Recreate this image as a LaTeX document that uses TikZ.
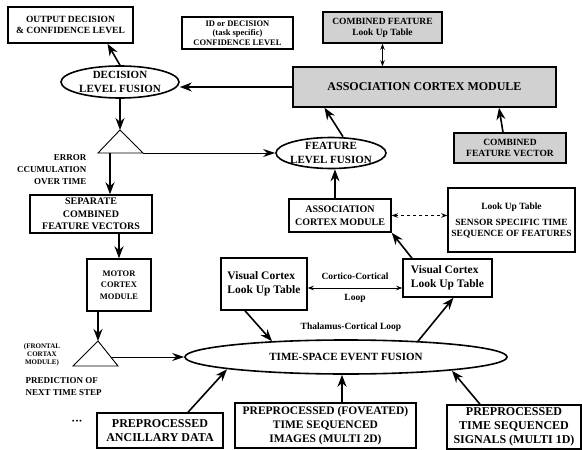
\documentclass[tikz,border=0pt]{standalone}
\usepackage{fontspec}
\setmainfont{Liberation Serif}
\usetikzlibrary{arrows.meta,shapes.geometric,calc}
\begin{document}
\begin{tikzpicture}[x=1pt,y=-1pt,>=Stealth,
  bx/.style={draw,line width=1.5pt,inner sep=0pt,align=center,fill=white},
  gbx/.style={bx,fill=black!18},
  fus/.style={draw,ellipse,line width=1.6pt,inner sep=0pt},
  ftxt/.style={font=\bfseries\fontsize{11}{13.5}\selectfont,align=center},
  fa/.style={font=\bfseries\fontsize{9.5}{11}\selectfont},
  fb/.style={font=\bfseries\fontsize{10}{12.5}\selectfont},
  fc/.style={font=\bfseries\fontsize{11.5}{14}\selectfont},
  big/.style={-{Stealth[length=12pt,width=9pt]},line width=1.6pt},
  lean/.style={-{Stealth[length=12pt,width=8pt]},line width=0.7pt},
  both/.style={{Stealth[length=6pt,width=4.5pt]}-{Stealth[length=6pt,width=4.5pt]},line width=0.8pt}]
  \useasboundingbox (0,0) rectangle (582,450);
  \node[bx,fa,minimum width=125,minimum height=36] (out) at (70.5,25) {OUTPUT DECISION\\\& CONFIDENCE LEVEL};
  \node[bx,font=\bfseries\fontsize{8.5}{9.5}\selectfont,minimum width=111,minimum height=32] (idc) at (237.5,33) {ID or DECISION\\(task specific)\\CONFIDENCE LEVEL};
  \node[gbx,fa,minimum width=119,minimum height=31] (cflut) at (382.5,27.5) {COMBINED FEATURE\\Look Up Table};
  \node[gbx,font=\bfseries\fontsize{12}{14}\selectfont,minimum width=263,minimum height=40] (acm) at (424.5,87) {ASSOCIATION CORTEX MODULE};
  \node[fus,minimum width=118,minimum height=32,label={[ftxt]center:{DECISION\\LEVEL FUSION}}] (dlf) at (120,82) {};
  \node[fus,minimum width=110,minimum height=31,label={[ftxt]center:{FEATURE\\LEVEL FUSION}}] (flf) at (331,153) {};
  \node[gbx,fa,minimum width=112,minimum height=30] (cfv) at (510,148) {COMBINED\\FEATURE VECTOR};
  \draw[line width=0.9pt] (120,130) coordinate (t1top) -- (143,153) coordinate (t1r) -- (98,153) -- cycle;
  \coordinate (t1b) at (110,153);
  \node[align=right,anchor=north east,font=\bfseries\fontsize{9}{12}\selectfont] (err) at (90,151) {ERROR\\CCUMULATION\\OVER TIME};
  \node[bx,fb,minimum width=122,minimum height=38] (sep) at (91,214) {SEPARATE\\COMBINED\\FEATURE VECTORS};
  \node[bx,font=\bfseries\fontsize{8.5}{11.5}\selectfont,minimum width=64,minimum height=52] (mot) at (119,285) {MOTOR\\CORTEX\\MODULE};
  \draw[line width=0.9pt] (98,341) coordinate (t2top) -- (118,366) -- (73,366) -- cycle;
  \coordinate (t2r) at (111,357);
  \node[font=\bfseries\fontsize{7}{8}\selectfont,align=center] (fro) at (42,355) {(FRONTAL\\CORTAX\\MODULE)};
  \node[anchor=west,align=left,font=\bfseries\fontsize{9}{12}\selectfont] (pred) at (22,387) {PREDICTION OF\\NEXT TIME STEP};
  \node[font=\bfseries\fontsize{7}{7}\selectfont] (dots) at (77,422) {\textbullet\,\textbullet\,\textbullet};
  \node[bx,minimum width=102,minimum height=33,font=\bfseries\fontsize{10}{13}\selectfont] (acms) at (340,215.5) {ASSOCIATION\\CORTEX MODULE};
  \node[bx,fa,minimum width=127,minimum height=64] (lut) at (511.5,220) {Look Up Table\\[5pt]SENSOR SPECIFIC TIME\\SEQUENCE OF FEATURES};
  \node[bx,fc,align=left,minimum width=86,minimum height=52] (vcl) at (264,284) {Visual Cortex\\Look Up Table};
  \node[bx,fc,align=left,minimum width=89,minimum height=38] (vcr) at (447.5,278) {Visual Cortex\\Look Up Table};
  \node[fus,minimum width=322,minimum height=34,label={[ftxt]center:TIME-SPACE EVENT FUSION}] (tsf) at (346,357) {};
  \node[font=\bfseries\fontsize{9.5}{11}\selectfont] (thal) at (351,327) {Thalamus-Cortical Loop};
  \node[bx,font=\bfseries\fontsize{12}{14}\selectfont,minimum width=126,minimum height=35] (anc) at (160,430.5) {PREPROCESSED\\ANCILLARY DATA};
  \node[bx,fc,minimum width=181,minimum height=45] (img) at (325.5,425.5) {PREPROCESSED (FOVEATED)\\TIME SEQUENCED\\IMAGES (MULTI 2D)};
  \node[bx,font=\bfseries\fontsize{12}{14}\selectfont,minimum width=134,minimum height=44] (sig) at (514,427) {PREPROCESSED\\TIME SEQUENCED\\SIGNALS (MULTI 1D)};
  \draw[big] (acm.west) -- (acm.west -| dlf.east);
  \draw[big] (dlf.north) -- ([xshift=37pt]out.south);
  \draw[both] (cflut.south) -- (cflut.south |- acm.north);
  \draw[big] (dlf.south) -- (dlf.south |- t1top);
  \draw[lean] (t1r) -- (flf.west);
  \draw[big] (t1b) -- (t1b |- sep.north);
  \draw[big] (sep.south -| mot.north) -- (mot.north);
  \draw[big] (t2top |- mot.south) -- (t2top);
  \draw[lean] (t2r) -- (tsf.west);
  \draw[big] ([xshift=12pt]flf.north) -- ([xshift=-100pt]acm.south);
  \draw[big] ([xshift=-7pt]cfv.north) -- ([xshift=74.5pt]acm.south);
  \draw[big] ([xshift=-5pt]acms.north) -- ([xshift=4pt]flf.south);
  \draw[both,dashed] (acms.east) -- (acms.east -| lut.west);
  \draw[big] ([xshift=-35.5pt]vcr.north) -- (acms.south east);
  \draw[both] ([yshift=-4pt]vcl.east) -- node[above=5pt,font=\bfseries\fontsize{9.5}{11}\selectfont]{Cortico-Cortical} node[below=3pt,font=\bfseries\fontsize{9.5}{11}\selectfont]{Loop} ([yshift=-10pt]vcr.west);
  \draw[big] ([xshift=-19pt]vcl.south) -- ([xshift=-74pt,yshift=-2pt]tsf.north);
  \draw[big] ([xshift=72pt,yshift=-2pt]tsf.north) -- ([xshift=6pt]vcr.south);
  \draw[big] ([xshift=28pt]anc.north) -- ([xshift=-119pt,yshift=5.5pt]tsf.south);
  \draw[big] ([xshift=16.5pt]img.north) -- ([xshift=-4pt]tsf.south);
  \draw[big] ([xshift=-34pt]sig.north) -- ([xshift=106pt,yshift=4pt]tsf.south);
\end{tikzpicture}
\end{document}
